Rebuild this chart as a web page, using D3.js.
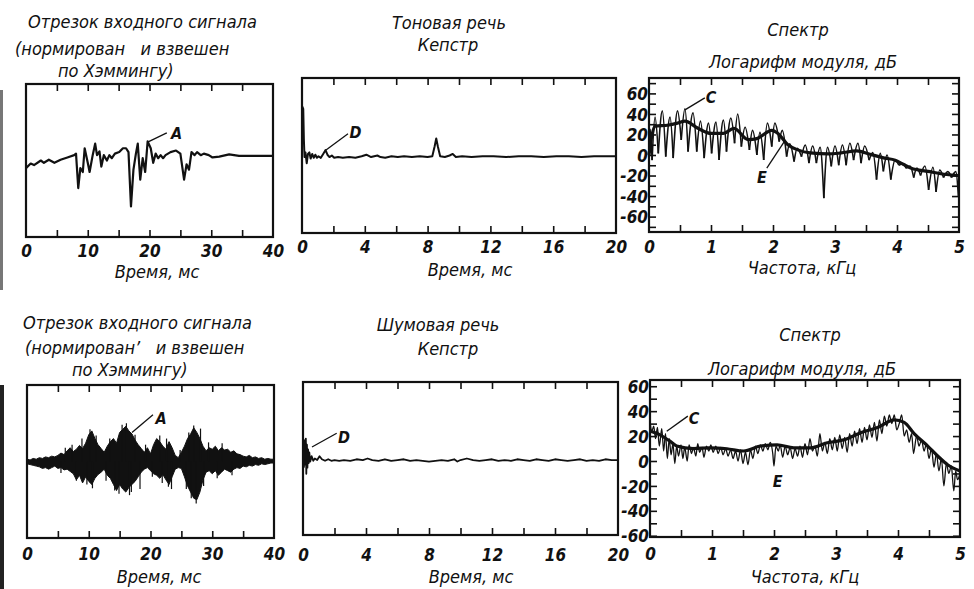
<!DOCTYPE html>
<html>
<head>
<meta charset="utf-8">
<script src="https://cdn.jsdelivr.net/npm/d3@7"></script>
<style>
body { margin: 0; background: #fff; }
svg text { font-family: "DejaVu Sans Condensed", "DejaVu Sans", sans-serif; font-style: italic; font-size: 18px; fill: #111; white-space: pre; }
svg text.num { font-weight: bold; font-size: 17px; }
svg text.mark { font-size: 16px; font-weight: bold; }
</style>
</head>
<body>
<svg id="chart" width="974" height="589"></svg>
<script>

// ---- axis ticks / labels ----
var timeTicks40 = [5, 10, 15, 20, 25, 30, 35];
var timeLabels40 = [0, 10, 20, 30, 40];
var timeTicks20 = [2, 4, 6, 8, 10, 12, 14, 16, 18];
var timeLabels20 = [0, 4, 8, 12, 16, 20];
var freqTicks = [0.5, 1, 1.5, 2, 2.5, 3, 3.5, 4, 4.5];
var freqLabels = [0, 1, 2, 3, 4, 5];
var dbTicksTop = [-70, -60, -50, -40, -30, -20, -10, 0, 10, 20, 30, 40, 50, 60, 70];
var dbTicksBottom = [-60, -50, -40, -30, -20, -10, 0, 10, 20, 30, 40, 50, 60];
var dbLabels = [-60, -40, -20, 0, 20, 40, 60];

// ---- voiced speech: windowed input segment [ms, amplitude] ----
var voicedSignal = [[0,-10],[0.76,-4],[1.3,-6],[2.4,0],[2.9,-3],[3.7,1],[4.6,-3],[5.1,-1],[5.6,1],[6.7,4],[7.8,7],[8.1,9],
	[8.46,-36],[8.8,-10],[9.2,-15],[9.5,16],[10,-3],[10.3,-15],[10.8,7],[11.2,22],[11.5,7],[11.9,12],[12.2,-8],[12.6,7],
	[13.1,0],[13.5,7],[13.9,3],[14.4,9],[15.1,11],[15.7,16],[16.2,16],[16.6,11],[17.0,-60],[17.4,-12],[17.8,9],[18.1,22],
	[18.5,-25],[18.9,3],[19.3,-15],[19.7,25],[20.2,16],[20.6,-3],[21.0,9],[21.4,3],[21.8,7],[22.2,3],[22.6,7],[23.4,11],
	[24.3,13],[25.0,9],[25.6,-25],[26.0,-5],[26.4,-12],[26.8,11],[27.3,7],[27.7,11],[28.3,7],[28.8,9],[29.6,7],[30.2,4],
	[31.3,5],[32.9,8],[34.5,6],[40,6]];

// ---- voiced speech: cepstrum [ms, value] ----
var voicedCepstrum = [[0,10],[0.02,63],[0.08,60],[0.12,20],[0.16,-2],[0.22,4],[0.3,-10],[0.38,2],[0.47,4],[0.55,-4],
	[0.65,2],[0.75,-3],[0.85,1],[0.95,-3],[1.05,-1],[1.2,-3],[1.35,2],[1.5,7],[1.62,1],[1.75,-2],[1.9,0],[2.05,-3],
	[2.3,-2],[2.6,-3],[3.0,-2],[3.4,-3],[3.8,-1],[4.1,1],[4.4,-2],[4.8,0],[5.0,-2],[5.3,-3],[5.7,-1],[6.1,-2],[6.5,-1],
	[7.0,-2],[7.5,-1],[8.0,-2],[8.3,-1],[8.45,12],[8.55,22],[8.65,12],[8.8,-1],[9.1,-2],[9.4,0],[9.6,2],[9.8,-2],
	[10.2,-1],[10.8,-2],[11.5,-1],[12.2,-1],[13,-2],[13.8,-1],[14.6,-1],[15.4,-2],[16.2,-1],[17,-1],[17.8,-2],
	[18.6,-1],[19.4,-1],[20,-1]];

// ---- voiced speech: log spectrum, alternating valley / harmonic peak [kHz, dB] ----
var voicedSpectrum = [[0,-8],[0.02,25],[0.05,-5],[0.097,37],[0.15,1.6],[0.215,43],[0.27,-1.6],[0.34,37],[0.39,-3],
	[0.46,43],[0.52,14.6],[0.58,45],[0.63,3.3],[0.71,41],[0.77,3.3],[0.83,33],[0.89,-3],[0.96,31],[1.01,1.6],[1.08,32],
	[1.13,-4.9],[1.20,34],[1.25,3.3],[1.32,36],[1.38,11.4],[1.43,40],[1.49,8.1],[1.55,27],[1.62,4.9],[1.67,24],[1.74,0],
	[1.79,22],[1.85,-4.9],[1.91,31],[1.98,8.1],[2.03,31],[2.10,13],[2.15,24],[2.22,-1.6],[2.27,11],[2.34,-6.5],
	[2.39,6.5],[2.46,-1.6],[2.52,9.8],[2.58,-8],[2.64,8.8],[2.70,-8],[2.76,7.5],[2.82,-42],[2.88,7.5],[2.94,-11],
	[3.0,8.8],[3.06,-10],[3.12,9.8],[3.18,-10],[3.24,11.4],[3.30,-5],[3.37,11.4],[3.42,-8],[3.48,8.8],[3.55,-5],
	[3.61,2.3],[3.67,-24],[3.73,1.6],[3.78,-16],[3.84,0],[3.90,-24],[3.97,-4.9],[4.03,-10],[4.09,-8.8],[4.15,-13],
	[4.21,-10.7],[4.27,-22],[4.32,-12.7],[4.38,-20],[4.45,-10.7],[4.51,-34],[4.58,-12],[4.63,-36],[4.69,-14.6],
	[4.75,-22],[4.82,-16.2],[4.88,-22],[4.95,-16.2],[4.99,-40]];

// smoothed (cepstrally liftered) spectrum [kHz, dB]
var voicedEnvelope = [[0,0],[0.05,20],[0.1,28],[0.3,29],[0.46,31],[0.58,33],[0.79,26],[1.0,21],[1.2,21],[1.37,26],
	[1.6,15],[1.74,16],[1.98,24],[2.08,21],[2.24,10],[2.4,5],[2.6,2],[2.9,1],[3.1,2],[3.35,4],[3.55,1],[3.8,-3],
	[3.97,-5],[4.1,-9],[4.23,-13],[4.5,-16],[4.8,-19],[5.0,-20]];

// ---- unvoiced speech: windowed input segment, envelope [ms, upper, lower] ----
var noiseBurst = [[0,3,-3],[0.5,2,-4],[1,4,-5],[1.5,3,-6],[2,5,-7],[2.5,4,-9],[3,6,-8],[3.5,5,-10],[4,7,-8],[4.5,6,-6],
	[5,8,-9],[5.5,11,-8],[6,9,-11],[6.5,14,-10],[7,18,-13],[7.5,13,-16],[8,16,-24],[8.5,21,-18],[9,17,-28],[9.5,24,-20],
	[10,35,-26],[10.5,40,-30],[11,30,-22],[11.5,22,-17],[12,17,-14],[12.5,12,-10],[13,20,-18],[13.5,26,-22],[14,30,-30],
	[14.5,24,-38],[15,38,-30],[15.5,42,-36],[16,46,-40],[16.5,40,-34],[17,36,-30],[17.5,28,-26],[18,22,-20],[18.5,17,-14],
	[19,12,-10],[19.5,18,-8],[20,10,-12],[20.5,22,-16],[21,30,-18],[21.5,26,-22],[22,20,-17],[22.5,16,-24],[23,26,-30],
	[23.5,18,-20],[24,8,-10],[24.5,5,-8],[25,12,-9],[25.5,20,-20],[26,30,-32],[26.5,36,-40],[27,44,-48],[27.5,38,-50],
	[28,30,-40],[28.5,20,-24],[29,14,-14],[29.5,18,-12],[30,16,-16],[30.5,20,-12],[31,14,-18],[31.5,18,-14],[32,15,-10],
	[32.5,16,-12],[33,12,-14],[33.5,14,-10],[34,10,-8],[34.5,9,-9],[35,7,-6],[35.5,6,-7],[36,8,-5],[36.5,5,-6],[37,6,-4],
	[37.5,4,-5],[38,5,-3],[38.5,3,-4],[39,4,-3],[39.5,3,-2],[40,3,-2]];
// single excursions sticking out of the burst [ms, amplitude]
var noiseSpikes = [[5.5,-15],[6.2,18],[7.3,22],[8.0,-25],[8.9,30],[9.7,-30],[10.2,42],[10.6,-35],[11.2,34],[12.8,-25],
	[13.4,30],[14.2,-38],[14.9,-42],[15.4,48],[16.1,50],[16.6,-44],[16.9,-40],[17.5,35],[18.3,-36],[19.2,22],[20.3,-20],
	[21.5,34],[21.9,-28],[22.6,30],[22.9,-33],[23.4,-36],[24.8,15],[25.8,-36],[26.2,38],[26.6,-48],[27.0,47],[27.4,-55],
	[28.1,43],[28.6,-32],[29.4,25],[30.8,-22],[31.6,24],[33.2,-18]];

// ---- unvoiced speech: cepstrum [ms, value] ----
var noiseCepstrum = [[0,0],[0.03,15],[0.06,-11],[0.09,10],[0.12,24],[0.15,-8],[0.18,26],[0.21,-20],[0.25,18],[0.28,-12],
	[0.32,12],[0.36,-6],[0.4,8],[0.46,-4],[0.55,3],[0.65,-3],[0.75,0],[0.9,-2],[1.05,3],[1.2,-1],[1.4,-3],[1.6,-1],
	[1.8,-3],[2.0,-2],[2.3,-3],[2.6,-2],[3.0,-3],[3.4,-1],[3.8,-2],[4.1,0],[4.4,-2],[4.8,-3],[5.2,-1],[5.6,-3],[6.0,-2],
	[6.4,-1],[6.8,-3],[7.2,-2],[7.6,-3],[8.0,-4],[8.4,-3],[8.8,-2],[9.2,-3],[9.6,-1],[9.8,-4],[10.0,-2],[10.4,0],
	[10.8,-2],[11.2,-3],[11.6,-2],[12.0,-1],[12.4,-3],[12.8,-2],[13.2,-3],[13.6,-1],[14.0,-2],[14.4,-3],[14.8,-1],
	[15.2,-2],[15.6,-3],[16.0,-1],[16.4,-2],[16.8,-3],[17.2,-2],[17.6,-1],[18.0,-3],[18.4,-2],[18.8,-3],[19.2,-1],
	[19.6,-2],[20,-2]];

// ---- unvoiced speech: log spectrum [kHz, dB] ----
var noiseSpectrum = [[0,32],[0.03,24],[0.06,28],[0.09,18],[0.12,27],[0.15,12],[0.19,26],[0.22,8],[0.25,22],[0.28,2],
	[0.31,18],[0.34,5],[0.37,14],[0.40,-2],[0.43,12],[0.46,4],[0.5,13],[0.53,2],[0.56,11],[0.6,0],[0.63,13],[0.67,6],
	[0.7,11],[0.74,4],[0.77,14],[0.8,7],[0.84,11],[0.87,3],[0.91,12],[0.95,8],[0.98,13],[1.02,7],[1.06,12],[1.1,6],
	[1.14,11],[1.18,5],[1.22,10],[1.26,4],[1.3,9],[1.34,2],[1.38,8],[1.42,0],[1.46,9],[1.5,-2],[1.54,7],[1.58,-3],
	[1.62,9],[1.66,2],[1.7,12],[1.74,6],[1.78,13],[1.82,8],[1.86,14],[1.9,9],[1.94,15],[1.98,6],[2.0,-4],[2.03,12],
	[2.07,8],[2.1,13],[2.14,3],[2.18,12],[2.22,5],[2.26,11],[2.3,2],[2.34,10],[2.38,4],[2.42,12],[2.46,3],[2.5,14],
	[2.54,5],[2.58,18],[2.62,8],[2.66,12],[2.7,4],[2.74,22],[2.78,8],[2.82,15],[2.86,6],[2.9,18],[2.94,9],[2.98,19],
	[3.02,8],[3.06,21],[3.1,10],[3.14,19],[3.18,7],[3.22,22],[3.26,12],[3.3,24],[3.34,14],[3.38,26],[3.42,15],[3.46,27],
	[3.5,17],[3.54,29],[3.58,19],[3.62,31],[3.66,16],[3.7,33],[3.74,22],[3.78,36],[3.82,28],[3.86,37],[3.9,30],[3.94,37],
	[3.98,25],[4.02,30],[4.06,37],[4.1,20],[4.14,25],[4.18,15],[4.22,22],[4.25,6],[4.3,20],[4.34,12],[4.38,17],[4.42,8],
	[4.46,14],[4.5,2],[4.54,10],[4.58,-5],[4.62,6],[4.66,-8],[4.7,2],[4.74,-20],[4.78,-2],[4.82,-10],[4.86,-4],[4.9,-24],
	[4.93,-8],[4.96,-15],[5.0,-10]];
var noiseEnvelope = [[0,24],[0.16,21],[0.32,16],[0.43,12],[0.7,10],[0.97,10.6],[1.24,9.8],[1.51,8],[1.78,12],[2.05,13],
	[2.32,10.6],[2.59,10.6],[2.86,14.6],[3.13,17],[3.4,22.7],[3.67,26.8],[3.94,33],[4.1,31],[4.26,22],[4.48,12],
	[4.64,4],[4.8,-3],[5.0,-8]];

var titleSignal = ['Отрезок входного сигнала', '(нормирован   и взвешен', 'по Хэммингу)'];
var titleSignal2 = ['Отрезок входного сигнала', '(нормирован’   и взвешен', 'по Хэммингу)'];
var titleVoiced = ['Тоновая речь', 'Кепстр'];
var titleNoise = ['Шумовая речь', 'Кепстр'];
var titleSpectrum = ['Спектр', 'Логарифм модуля, дБ'];
var labelTime = 'Время, мс';
var labelFreq = 'Частота, кГц';

var svg = d3.select('#chart');
var ink = '#111';

function panel(p) {
	var x = d3.scaleLinear().domain(p.xDomain).range([p.left, p.right]);
	var y = d3.scaleLinear().domain(p.yDomain).range([p.bottom, p.top]);
	var g = svg.append('g');

	// inward ticks on all framed sides
	var ticks = g.append('g');
	ticks.append('g').attr('transform', 'translate(0,' + p.bottom + ')')
		.call(d3.axisBottom(x).tickValues(p.xTicks).tickSize(-7).tickSizeOuter(0).tickFormat(''));
	ticks.append('g').attr('transform', 'translate(0,' + p.top + ')')
		.call(d3.axisTop(x).tickValues(p.xTicks).tickSize(-7).tickSizeOuter(0).tickFormat(''));
	if(p.yTicks) {
		ticks.append('g').attr('transform', 'translate(' + p.left + ',0)')
			.call(d3.axisLeft(y).tickValues(p.yTicks).tickSize(-7).tickSizeOuter(0).tickFormat(''));
		ticks.append('g').attr('transform', 'translate(' + p.right + ',0)')
			.call(d3.axisRight(y).tickValues(p.yTicks).tickSize(-7).tickSizeOuter(0).tickFormat(''));
	}
	ticks.selectAll('.domain').remove();
	ticks.selectAll('line').attr('stroke', ink).attr('stroke-width', 1.6);

	// tick labels, baseline at labelY
	var xl = g.append('g').attr('transform', 'translate(0,' + p.labelY + ')')
		.call(d3.axisBottom(x).tickValues(p.xLabels).tickSize(0).tickPadding(0).tickFormat(String));
	xl.select('.domain').remove();
	xl.selectAll('text').attr('class', 'num').attr('y', 0).attr('dy', null);

	if(p.yLabels) {
		var yl = g.append('g').attr('transform', 'translate(' + (p.left - 1) + ',0)')
			.call(d3.axisLeft(y).tickValues(p.yLabels).tickSize(0).tickPadding(0).tickFormat(String));
		yl.select('.domain').remove();
		yl.selectAll('text').attr('class', 'num').attr('dy', '0.36em');
	}

	g.append('rect')
		.attr('x', p.left).attr('y', p.top)
		.attr('width', p.right - p.left).attr('height', p.bottom - p.top)
		.attr('fill', 'none').attr('stroke', ink).attr('stroke-width', 2.2);

	// titles above and axis name below
	g.selectAll('.title').data(p.title).enter().append('text')
		.attr('x', function(d, i) { return p.titleX[i]; })
		.attr('y', function(d, i) { return p.titleY[i]; })
		.attr('text-anchor', p.titleAnchor)
		.text(function(d) { return d; });
	g.append('text').attr('x', p.nameX).attr('y', p.nameY)
		.attr('text-anchor', 'middle').text(p.name);

	return {x: x, y: y, g: g};
}

function mark(pn, m) {
	pn.g.append('line')
		.attr('x1', pn.x(m.at[0])).attr('y1', pn.y(m.at[1]))
		.attr('x2', pn.x(m.to[0])).attr('y2', pn.y(m.to[1]))
		.attr('stroke', ink).attr('stroke-width', 1.3);
	pn.g.append('text').attr('class', 'mark')
		.attr('x', pn.x(m.label[0])).attr('y', pn.y(m.label[1]))
		.attr('dy', '0.36em').attr('text-anchor', 'middle')
		.text(m.text);
}

function trace(pn, data, width, curve) {
	pn.g.append('path').datum(data)
		.attr('fill', 'none').attr('stroke', ink)
		.attr('stroke-width', width).attr('stroke-linejoin', 'round')
		.attr('d', d3.line()
			.x(function(d) { return pn.x(d[0]); })
			.y(function(d) { return pn.y(d[1]); })
			.curve(curve || d3.curveLinear));
}

// arches: each harmonic drawn valley-peak-valley so the valleys stay sharp
function arches(pn, data, width) {
	for(var i = 1; i < data.length - 1; i += 2) {
		trace(pn, data.slice(i - 1, i + 2), width, d3.curveMonotoneX);
	}
}

// ---------- top row ----------
var tl = panel({
	left: 26, right: 273, top: 84, bottom: 237,
	xDomain: [0, 40], yDomain: [-100, 100],
	xTicks: timeTicks40, xLabels: timeLabels40, labelY: 257,
	title: titleSignal, titleX: [28, 15, 58], titleY: [28, 55, 77], titleAnchor: 'start',
	name: labelTime, nameX: 157, nameY: 278
});
trace(tl, voicedSignal, 2.2);
mark(tl, {at: [19.7, 24], to: [22.8, 36], label: [24.4, 36], text: 'A'});

var tm = panel({
	left: 302, right: 616, top: 78, bottom: 233,
	xDomain: [0, 20], yDomain: [-100, 100],
	xTicks: timeTicks20, xLabels: timeLabels20, labelY: 253,
	title: titleVoiced, titleX: [449, 448], titleY: [29, 51], titleAnchor: 'middle',
	name: labelTime, nameX: 470, nameY: 276
});
trace(tm, voicedCepstrum, 2);
mark(tm, {at: [1.53, 7], to: [2.93, 28], label: [3.4, 30], text: 'D'});

var tr = panel({
	left: 649, right: 959, top: 78, bottom: 232,
	xDomain: [0, 5], yDomain: [-75, 75],
	xTicks: freqTicks, xLabels: freqLabels, labelY: 253,
	yTicks: dbTicksTop, yLabels: dbLabels,
	title: titleSpectrum, titleX: [798, 803], titleY: [36, 68], titleAnchor: 'middle',
	name: labelFreq, nameX: 802, nameY: 274
});
arches(tr, voicedSpectrum, 1.6);
trace(tr, voicedEnvelope, 3.2, d3.curveMonotoneX);
mark(tr, {at: [0.58, 44], to: [0.9, 55.6], label: [1.0, 56], text: 'C'});
mark(tr, {at: [2.19, 13.7], to: [1.9, -12.7], label: [1.82, -22], text: 'E'});

// ---------- bottom row ----------
var bl = panel({
	left: 27, right: 274, top: 385, bottom: 538,
	xDomain: [0, 40], yDomain: [-100, 100],
	xTicks: timeTicks40, xLabels: timeLabels40, labelY: 560,
	title: titleSignal2, titleX: [23, 25, 72], titleY: [329, 354, 376], titleAnchor: 'start',
	name: labelTime, nameX: 159, nameY: 583
});
bl.g.append('path').datum(noiseBurst)
	.attr('fill', ink).attr('stroke', ink).attr('stroke-width', 1)
	.attr('d', d3.area()
		.x(function(d) { return bl.x(d[0]); })
		.y0(function(d) { return bl.y(d[2]); })
		.y1(function(d) { return bl.y(d[1]); }));
bl.g.selectAll('.spike').data(noiseSpikes).enter().append('line')
	.attr('x1', function(d) { return bl.x(d[0]); })
	.attr('x2', function(d) { return bl.x(d[0]); })
	.attr('y1', bl.y(0))
	.attr('y2', function(d) { return bl.y(d[1]); })
	.attr('stroke', ink).attr('stroke-width', 1.2);
mark(bl, {at: [17, 38], to: [20.4, 61], label: [21.7, 57], text: 'A'});

var bm = panel({
	left: 303, right: 618, top: 382, bottom: 535,
	xDomain: [0, 20], yDomain: [-100, 100],
	xTicks: timeTicks20, xLabels: timeLabels20, labelY: 561,
	title: titleNoise, titleX: [438, 448], titleY: [331, 355], titleAnchor: 'middle',
	name: labelTime, nameX: 471, nameY: 583
});
trace(bm, noiseCepstrum, 1.8);
mark(bm, {at: [0.57, 15], to: [2.14, 33], label: [2.6, 28], text: 'D'});

var br = panel({
	left: 650, right: 960, top: 380, bottom: 537,
	xDomain: [0, 5], yDomain: [-61, 65],
	xTicks: freqTicks, xLabels: freqLabels, labelY: 560,
	yTicks: dbTicksBottom, yLabels: dbLabels,
	title: titleSpectrum, titleX: [810, 802], titleY: [341, 375], titleAnchor: 'middle',
	name: labelFreq, nameX: 805, nameY: 583
});
trace(br, noiseSpectrum, 1.3, d3.curveMonotoneX);
trace(br, noiseEnvelope, 3.2, d3.curveMonotoneX);
mark(br, {at: [0.27, 23.8], to: [0.61, 36], label: [0.71, 34], text: 'C'});
br.g.append('text').attr('class', 'mark')
	.attr('x', br.x(2.06)).attr('y', br.y(-16.5)).attr('dy', '0.36em')
	.attr('text-anchor', 'middle').text('E');

// dark binding edge of the scanned page
svg.append('rect').attr('x', 0).attr('y', 385).attr('width', 4).attr('height', 204).attr('fill', '#222');
svg.append('rect').attr('x', 0).attr('y', 90).attr('width', 3).attr('height', 200).attr('fill', '#777');

</script>
</body>
</html>
